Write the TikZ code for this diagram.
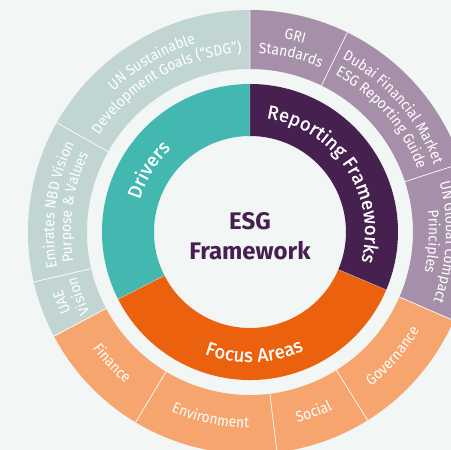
\documentclass[tikz,border=0pt]{standalone}
\usepackage{fontspec}
\setmainfont{Fira Sans}
\newfontfamily\ringfont[FakeStretch=0.92]{Fira Sans}
\newfontfamily\hubfont[FakeBold=0.8]{Fira Sans}
\usetikzlibrary{decorations.text}

\definecolor{paper}{HTML}{F2F6F5}
\definecolor{sage}{HTML}{C1D6D3}
\definecolor{lagoon}{HTML}{43B8B1}
\definecolor{plum}{HTML}{46204F}
\definecolor{mauve}{HTML}{A68FA8}
\definecolor{ember}{HTML}{EC610E}
\definecolor{apricot}{HTML}{F5A56D}

\newcommand\ringtext{\ringfont\fontsize{15}{18}\selectfont}
\newcommand\hubtext{\hubfont\fontsize{19}{22}\selectfont}

\tikzset{
  ringlabel/.style={decorate,decoration={text along path,text align=center,
    text color=white,text={|\ringtext|#1}}},
  hublabel/.style={decorate,decoration={text along path,text align=center,
    text color=white,text={|\hubtext|#1}}},
  divider/.style={white,line width=0.7pt},
  seam/.style={white,opacity=0.5,line width=0.5pt},
  title/.style={plum,font=\bfseries\fontsize{24}{28}\selectfont,anchor=base,inner sep=0pt}
}

\begin{document}
\begin{tikzpicture}
  \fill[paper] (-250pt,-218pt) rectangle (201pt,232pt);
  \useasboundingbox (-250pt,-218pt) rectangle (201pt,232pt);
  % outer ring
  \fill[sage] (90:222pt) arc[start angle=90,end angle=208,radius=222pt]
    -- (208:163pt) arc[start angle=208,end angle=90,radius=163pt] -- cycle;
  \fill[apricot] (208:222pt) arc[start angle=208,end angle=336.5,radius=222pt]
    -- (336.5:163pt) arc[start angle=336.5,end angle=208,radius=163pt] -- cycle;
  \fill[mauve] (-23.5:222pt) arc[start angle=-23.5,end angle=90,radius=222pt]
    -- (90:163pt) arc[start angle=90,end angle=-23.5,radius=163pt] -- cycle;
  \draw[divider] (90:163pt) -- (90:222pt) (150.5:163pt) -- (150.5:222pt)
    (193:163pt) -- (193:222pt) (208:163pt) -- (208:222pt)
    (239:163pt) -- (239:222pt) (277:163pt) -- (277:222pt)
    (302:163pt) -- (302:222pt) (336.5:163pt) -- (336.5:222pt)
    (18:163pt) -- (18:222pt) (64:163pt) -- (64:222pt);
  % inner ring
  \fill[lagoon] (90:148pt) arc[start angle=90,end angle=207,radius=148pt]
    -- (207:96pt) arc[start angle=207,end angle=90,radius=96pt] -- cycle;
  \fill[ember] (207:148pt) arc[start angle=207,end angle=337,radius=148pt]
    -- (337:96pt) arc[start angle=337,end angle=207,radius=96pt] -- cycle;
  \fill[plum] (-23:148pt) arc[start angle=-23,end angle=90,radius=148pt]
    -- (90:96pt) arc[start angle=90,end angle=-23,radius=96pt] -- cycle;
  \draw[seam] (90:96pt) -- (90:148pt) (207:96pt) -- (207:148pt)
    (337:96pt) -- (337:148pt);

  % outer labels, top half read clockwise
  \path[ringlabel={UN Sustainable}] (165:196pt) arc[start angle=165,end angle=75,radius=196pt];
  \path[ringlabel={Development Goals (“SDG”)}] (165:179pt) arc[start angle=165,end angle=75,radius=179pt];
  \path[ringlabel={Emirates NBD Vision}] (217:196pt) arc[start angle=217,end angle=127,radius=196pt];
  \path[ringlabel={Purpose {\&} Values}] (217:179pt) arc[start angle=217,end angle=127,radius=179pt];
  \path[ringlabel={UAE}] (245.5:196pt) arc[start angle=245.5,end angle=155.5,radius=196pt];
  \path[ringlabel={Vision}] (245.5:179pt) arc[start angle=245.5,end angle=155.5,radius=179pt];
  \path[ringlabel={GRI}] (122:196pt) arc[start angle=122,end angle=32,radius=196pt];
  \path[ringlabel={Standards}] (122:179pt) arc[start angle=122,end angle=32,radius=179pt];
  \path[ringlabel={Dubai Financial Market}] (86:196pt) arc[start angle=86,end angle=-4,radius=196pt];
  \path[ringlabel={ESG Reporting Guide}] (86:179pt) arc[start angle=86,end angle=-4,radius=179pt];
  \path[ringlabel={UN Global Compact}] (42:196pt) arc[start angle=42,end angle=-48,radius=196pt];
  \path[ringlabel={Principles}] (42:179pt) arc[start angle=42,end angle=-48,radius=179pt];
  % outer labels, bottom half read counter-clockwise
  \path[ringlabel={Finance}] (178.5:196pt) arc[start angle=178.5,end angle=268.5,radius=196pt];
  \path[ringlabel={Environment}] (213:196pt) arc[start angle=213,end angle=303,radius=196pt];
  \path[ringlabel={Social}] (244.5:196pt) arc[start angle=244.5,end angle=334.5,radius=196pt];
  \path[ringlabel={Governance}] (274:196pt) arc[start angle=274,end angle=364,radius=196pt];

  % inner labels
  \path[hublabel={Drivers}] (193.5:115pt) arc[start angle=193.5,end angle=103.5,radius=115pt];
  \path[hublabel={Reporting Frameworks}] (103.5:115pt) arc[start angle=103.5,end angle=-36.5,radius=115pt];
  \path[hublabel={Focus Areas}] (212:130pt) arc[start angle=212,end angle=332,radius=130pt];

  \node[title] (esg) at (0pt,2pt) {ESG};
  \node[title] (framework) at (0pt,-28pt) {Framework};
\end{tikzpicture}
\end{document}
